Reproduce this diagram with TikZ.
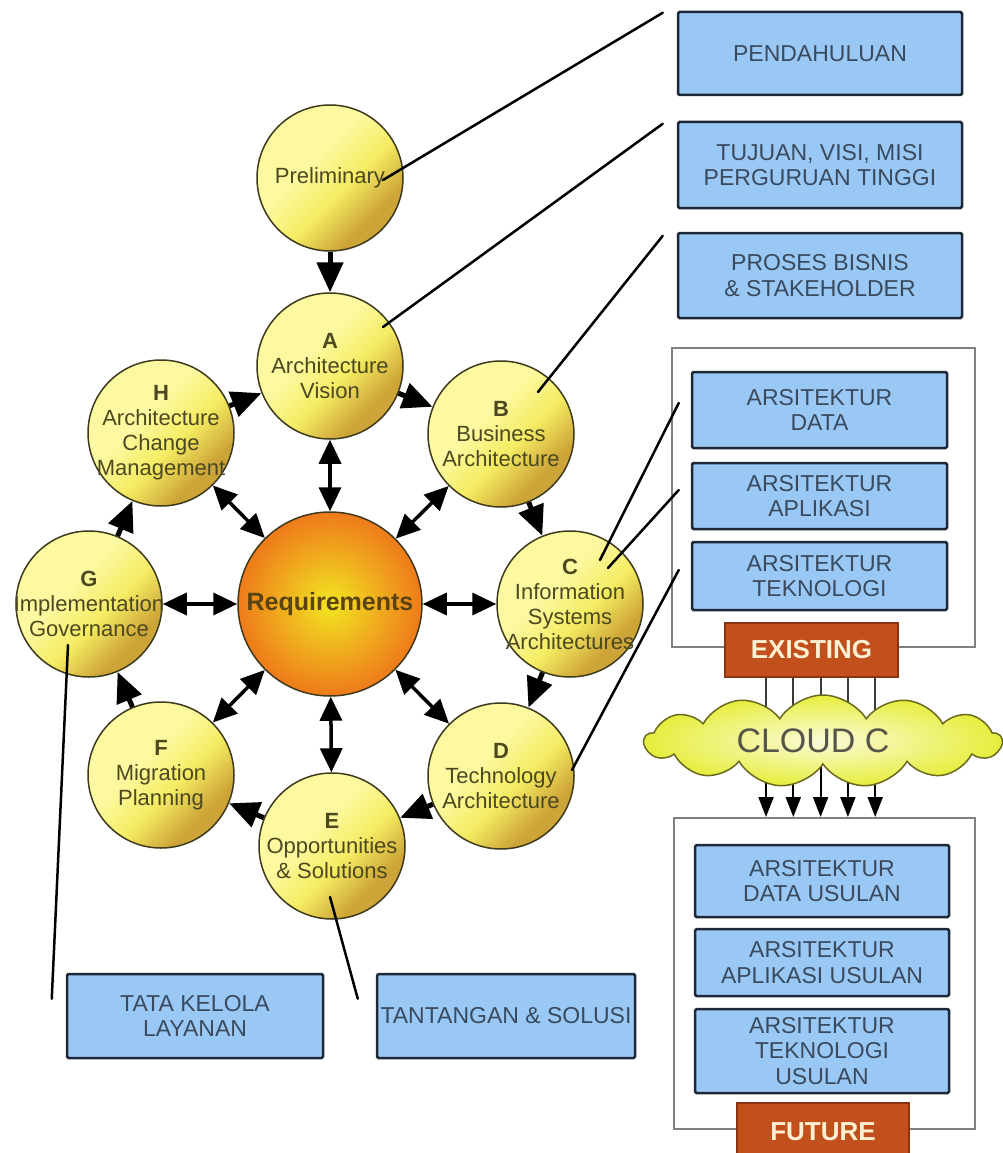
\documentclass[tikz,border=0pt]{standalone}
\usepackage{fontspec}
\setmainfont{Liberation Sans}
\usetikzlibrary{arrows.meta,shapes.symbols,calc}

\definecolor{ringlight}{HTML}{FCF9A0}
\definecolor{ringmid}{HTML}{F4EC62}
\definecolor{ringdark}{HTML}{CDA437}
\definecolor{ringedge}{HTML}{3E3A1C}
\definecolor{ringtext}{HTML}{4C4820}
\definecolor{reqin}{HTML}{F2E622}
\definecolor{reqout}{HTML}{EE7A1A}
\definecolor{reqtext}{HTML}{5A4310}
\definecolor{boxfill}{HTML}{99C8F4}
\definecolor{boxedge}{HTML}{1E2838}
\definecolor{boxtext}{HTML}{3A4A5E}
\definecolor{tagfill}{HTML}{C2501C}
\definecolor{tagedge}{HTML}{8A3410}
\definecolor{tagtext}{HTML}{FBF0D2}
\definecolor{framegray}{HTML}{808080}
\definecolor{cloudin}{HTML}{FBFBD8}
\definecolor{cloudout}{HTML}{E6EE3C}
\definecolor{cloudedge}{HTML}{6A6A1E}
\definecolor{cloudtext}{HTML}{55554A}
\definecolor{feedgray}{HTML}{3A3A3A}

% light top-left, gold only towards the lower-right rim
\pgfdeclareverticalshading{ringshade}{100bp}{%
  color(0bp)=(ringdark); color(30bp)=(ringdark); color(44bp)=(ringmid);
  color(58bp)=(ringlight); color(100bp)=(ringlight)}

\tikzset{
  ring/.style={circle, draw=ringedge, line width=1.5pt, minimum size=146pt, inner sep=0pt,
    shading=ringshade, shading angle=45},
  ringtxt/.style={align=center, text=ringtext, font=\fontsize{22}{25}\selectfont, inner sep=0pt},
  core/.style={circle, draw=ringedge, line width=1.5pt, minimum size=184pt, inner sep=0pt,
    inner color=reqin, outer color=reqout},
  cyc/.style={line width=5pt, -{Triangle[length=30pt,width=26pt]}},
  dbl/.style={line width=3.5pt, {Triangle[length=24pt,width=22pt]}-{Triangle[length=24pt,width=22pt]}},
  tie/.style={line width=2.5pt, line cap=round},
  bluebox/.style={draw=boxedge, line width=2.5pt, fill=boxfill, rounded corners=1.5pt,
    align=center, text=boxtext, font=\fontsize{23}{25.5}\selectfont, inner sep=0pt},
  tag/.style={draw=tagedge, line width=1.5pt, fill=tagfill, text=tagtext,
    font=\fontsize{26}{30}\selectfont\bfseries, inner sep=0pt},
  framebox/.style={draw=framegray, line width=2pt, fill=white},
  feed/.style={draw=feedgray, line width=2pt},
  feedarrow/.style={draw=black, line width=2pt, -{Triangle[length=20pt,width=15pt]}},
}

\begin{document}
\begin{tikzpicture}[x=1pt,y=-1pt]
\useasboundingbox (0,0) rectangle (1002,1153);
\fill[white] (0,0) rectangle (1002,1153);

% ---- TOGAF ADM cycle ----
\node[ring] (pre) at (330,178) {};
\node[ring] (A) at (330,366) {};
\node[ring] (B) at (501,434) {};
\node[ring] (C) at (570,604) {};
\node[ring] (D) at (501,776) {};
\node[ring] (E) at (332,846) {};
\node[ring] (F) at (161,775) {};
\node[ring] (G) at (89,604) {};
\node[ring] (H) at (161,433) {};
\node[core] (req) at (330,604) {};

\node[ringtxt] (pret) at (pre) {Preliminary};
\node[ringtxt] (At) at (A) {\textbf{A}\\Architecture\\Vision};
\node[ringtxt] (Bt) at (B) {\textbf{B}\\Business\\Architecture};
\node[ringtxt] (Ct) at (C) {\textbf{C}\\Information\\Systems\\Architectures};
\node[ringtxt] (Dt) at (D) {\textbf{D}\\Technology\\Architecture};
\node[ringtxt] (Et) at (E) {\textbf{E}\\Opportunities\\\&~Solutions};
\node[ringtxt] (Ft) at (F) {\textbf{F}\\Migration\\Planning};
\node[ringtxt] (Gt) at (G) {\textbf{G}\\Implementation\\Governance};
\node[ringtxt] (Ht) at (H) {\textbf{H}\\Architecture\\Change\\Management};
\node[font=\fontsize{25}{28}\selectfont\bfseries, text=reqtext, inner sep=0pt] (reqt) at (req) {Requirements};

% cycle arrows
\draw[cyc] (pre) -- (A);
\draw[cyc] (A) -- (B);
\draw[cyc] (B) -- (C);
\draw[cyc] (C) -- (D);
\draw[cyc] (D) -- (E);
\draw[cyc] (E) -- (F);
\draw[cyc] (F) -- (G);
\draw[cyc] (G) -- (H);
\draw[cyc] (H) -- (A);

% requirements exchange
\foreach \p in {A,B,C,D,E,F,G,H}
  \draw[dbl] (req) -- (\p);

% ---- right column: deliverables ----
\node[bluebox, minimum width=284pt, minimum height=83pt] (pend) at (820,53.5) {PENDAHULUAN};
\node[bluebox, minimum width=284pt, minimum height=86pt] (tuj) at (820,165) {TUJUAN, VISI, MISI\\PERGURUAN TINGGI};
\node[bluebox, minimum width=284pt, minimum height=85pt] (pros) at (820,275.5) {PROSES BISNIS\\\& STAKEHOLDER};

\node[framebox, minimum width=303pt, minimum height=299pt] (exframe) at (823.5,497.5) {};
\node[bluebox, minimum width=255pt, minimum height=76pt] (data) at (819.5,410) {ARSITEKTUR\\DATA};
\node[bluebox, minimum width=255pt, minimum height=66pt] (apl) at (819.5,496) {ARSITEKTUR\\APLIKASI};
\node[bluebox, minimum width=255pt, minimum height=68pt] (tek) at (819.5,576) {ARSITEKTUR\\TEKNOLOGI};
\node[tag, minimum width=173pt, minimum height=54pt] (ex) at (811.5,650) {EXISTING};

\node[framebox, minimum width=301pt, minimum height=311pt] (futframe) at (824.5,973.5) {};
\node[bluebox, minimum width=254pt, minimum height=72pt] (datu) at (822,881) {ARSITEKTUR\\DATA USULAN};
\node[bluebox, minimum width=254pt, minimum height=67pt] (aplu) at (822,962.5) {ARSITEKTUR\\APLIKASI USULAN};
\node[bluebox, minimum width=254pt, minimum height=84pt] (teku) at (822,1051) {ARSITEKTUR\\TEKNOLOGI\\USULAN};
\node[tag, minimum width=172pt, minimum height=62pt, text depth=0pt] (fut) at (823,1134) {\raisebox{4pt}{FUTURE}};

% migration feeds through the cloud
\foreach \dx in {-45.5,-18.2,9.1,36.4,63.7} {
  \draw[feed] ([xshift=\dx pt]ex.south) -- ([xshift=\dx pt]ex.south |- 0,760);
  \draw[feedarrow] ([xshift=\dx pt]ex.south |- 0,760) -- ([xshift=\dx pt]ex.south |- futframe.north);
}
\node[cloud, cloud puffs=13, cloud puff arc=115, aspect=3.9, draw=cloudedge, line width=1.5pt,
  inner color=cloudin, outer color=cloudout, minimum width=357pt, minimum height=92pt,
  inner sep=0pt] (cloud) at (823,741) {};
\node[text=cloudtext, font=\fontsize{34}{38}\selectfont, inner sep=0pt] (cloudt) at (813,741) {CLOUD C};

% ---- bottom deliverables ----
\node[bluebox, minimum width=256pt, minimum height=84pt] (tata) at (195,1016) {TATA KELOLA\\LAYANAN};
\node[bluebox, minimum width=258pt, minimum height=84pt] (tant) at (506,1016) {TANTANGAN \& SOLUSI};

% ---- mapping lines ----
\draw[tie] ($(pre.center)+(53,2)$) -- ($(pend.north west)+(-14,2)$);
\draw[tie] ($(A.center)+(53,-39)$) -- ($(tuj.north west)+(-14,3)$);
\draw[tie] ($(B.center)+(37,-42)$) -- ($(pros.north west)+(-14,4)$);
\draw[tie] ($(C.center)+(30,-44)$) -- ($(data.west)+(-12,-7)$);
\draw[tie] ($(C.center)+(38,-36)$) -- ($(apl.west)+(-12,-6)$);
\draw[tie] ($(D.center)+(71,-6)$) -- ($(tek.west)+(-12,-6)$);
\draw[tie] ($(G.center)+(-21,41)$) -- ($(tata.north west)+(-14,26)$);
\draw[tie] ($(E.center)+(-2,51)$) -- ($(tant.north west)+(-18,26)$);
\end{tikzpicture}
\end{document}
